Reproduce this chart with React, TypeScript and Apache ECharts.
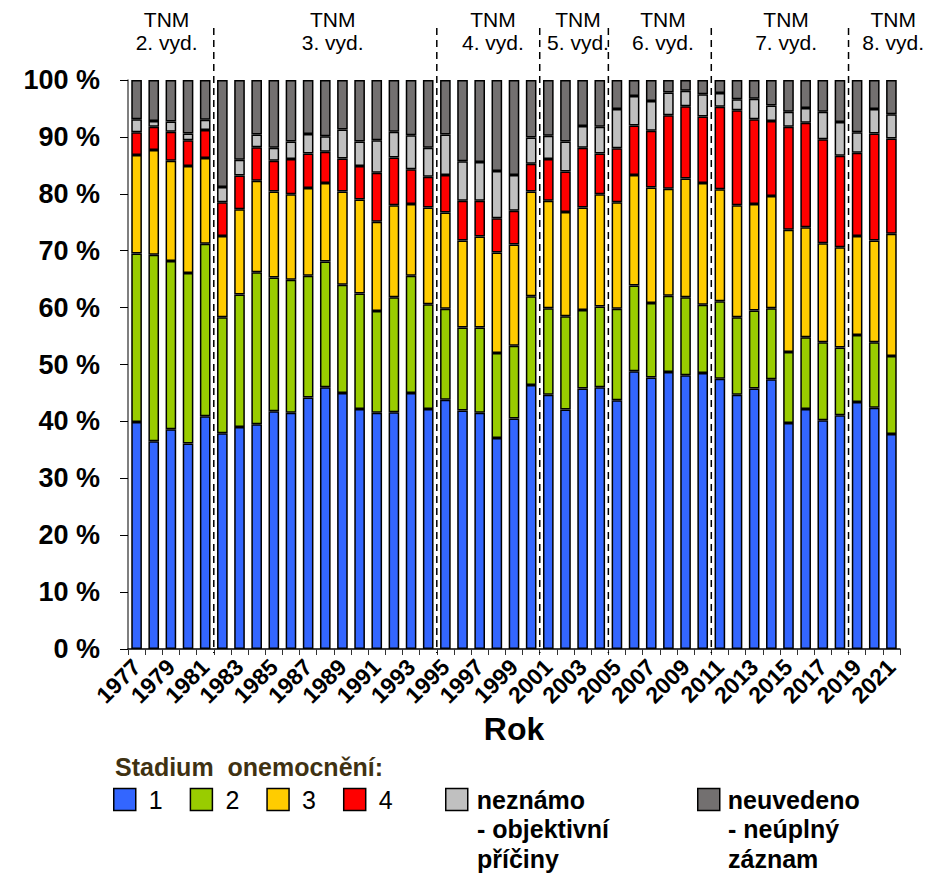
import React, { useEffect, useRef } from "react";
import * as echarts from "echarts";

const years = [
  "1977", "1978", "1979", "1980", "1981", "1982", "1983", "1984", "1985", "1986",
  "1987", "1988", "1989", "1990", "1991", "1992", "1993", "1994", "1995", "1996",
  "1997", "1998", "1999", "2000", "2001", "2002", "2003", "2004", "2005", "2006",
  "2007", "2008", "2009", "2010", "2011", "2012", "2013", "2014", "2015", "2016",
  "2017", "2018", "2019", "2020", "2021",
];

const stage1 = [
  39.9, 36.5, 38.6, 36.1, 40.9, 37.9, 39.0, 39.5, 41.8, 41.5,
  44.2, 46.0, 45.0, 42.2, 41.5, 41.6, 45.0, 42.2, 43.8, 41.9,
  41.5, 37.1, 40.5, 46.4, 44.7, 42.1, 45.8, 46.0, 43.7, 48.8,
  47.7, 48.7, 48.1, 48.5, 47.5, 44.7, 45.8, 47.4, 39.7, 42.2,
  40.2, 41.1, 43.4, 42.4, 37.8,
];
const stage2 = [
  29.6, 32.8, 29.6, 30.0, 30.3, 20.4, 23.3, 26.7, 23.5, 23.4,
  21.4, 22.1, 19.0, 20.3, 17.9, 20.2, 20.6, 18.4, 16.0, 14.6,
  15.0, 14.9, 12.8, 15.6, 15.2, 16.4, 13.8, 14.2, 16.1, 15.1,
  13.1, 13.4, 13.7, 12.0, 13.6, 13.6, 13.7, 12.5, 12.5, 12.6,
  13.7, 11.9, 11.8, 11.5, 13.7,
];
const stage3 = [
  17.3, 18.4, 17.6, 18.8, 15.1, 14.3, 15.0, 16.1, 15.1, 15.0,
  15.4, 13.8, 16.4, 16.5, 15.7, 16.2, 12.6, 17.0, 16.9, 15.3,
  16.0, 17.7, 17.8, 18.4, 18.9, 18.3, 18.0, 19.7, 18.7, 19.4,
  20.3, 18.8, 20.9, 21.4, 19.7, 19.7, 18.7, 19.7, 21.5, 19.3,
  17.4, 17.6, 17.4, 17.9, 21.5,
];
const stage4 = [
  4.0, 4.1, 5.1, 4.5, 4.9, 5.9, 5.9, 5.9, 5.4, 6.2,
  6.1, 5.5, 5.8, 5.9, 8.6, 8.4, 6.1, 5.4, 6.6, 7.0,
  6.3, 6.0, 5.9, 4.9, 7.3, 7.1, 10.5, 7.2, 9.5, 8.7,
  10.0, 12.9, 12.7, 11.7, 14.5, 16.7, 14.9, 13.2, 18.1, 18.4,
  18.3, 16.1, 14.6, 18.8, 16.7,
];
const unknownObjective = [
  2.3, 1.0, 1.8, 1.2, 1.8, 2.7, 2.8, 2.2, 2.3, 3.1,
  3.4, 2.7, 5.1, 4.3, 5.7, 4.5, 6.0, 5.1, 7.1, 6.9,
  6.8, 8.3, 6.3, 4.6, 4.1, 5.3, 3.8, 4.7, 6.9, 5.2,
  5.2, 4.0, 2.7, 3.9, 2.4, 1.9, 3.6, 2.7, 2.6, 2.6,
  4.8, 5.9, 3.6, 4.3, 4.3,
];
const notStated = [
  6.9, 7.2, 7.3, 9.4, 7.0, 18.8, 14.0, 9.6, 11.9, 10.8,
  9.5, 9.9, 8.7, 10.8, 10.6, 9.1, 9.7, 11.9, 9.6, 14.3,
  14.4, 16.0, 16.7, 10.1, 9.8, 10.8, 8.1, 8.2, 5.1, 2.8,
  3.7, 2.2, 1.9, 2.5, 2.3, 3.4, 3.3, 4.5, 5.6, 4.9,
  5.6, 7.4, 9.2, 5.1, 6.0,
];

const seriesNames = ["1", "2", "3", "4", "neznámo - objektivní příčiny", "neuvedeno - neúplný záznam"];
const seriesColors = ["#3366FF", "#99CC00", "#FFCC00", "#FF0000", "#C0C0C0", "#737070"];

const yTickValues = [0, 10, 20, 30, 40, 50, 60, 70, 80, 90, 100];

const editionStartYears = ["1977", "1982", "1995", "2001", "2005", "2011", "2019"];
const editionLabels = ["2. vyd.", "3. vyd.", "4. vyd.", "5. vyd.", "6. vyd.", "7. vyd.", "8. vyd."];
const editionLabelShift = [-0.25, 0.43, 0.27, 0.23, 0.18, 0.36, 1.1];

const FONT = "'Liberation Sans', Arial, Helvetica, sans-serif";

export default function App() {
  const ref = useRef<HTMLDivElement>(null);

  useEffect(() => {
    document.body.style.margin = "0";
    const chart = echarts.init(ref.current as HTMLDivElement, null, { renderer: "svg" });
    const allData = [stage1, stage2, stage3, stage4, unknownObjective, notStated];

    const legendCommon = {
      orient: "horizontal",
      icon: "rect",
      itemWidth: 22,
      itemHeight: 22,
      padding: 0,
      selectedMode: false,
      itemStyle: { borderColor: "#000", borderWidth: 1.5 },
    };

    chart.setOption({
      animation: false,
      textStyle: { fontFamily: FONT },
      grid: { left: 128, right: 43, top: 80, bottom: 224, containLabel: false, outerBoundsMode: "none" },
      legend: [
        {
          ...legendCommon,
          data: ["1", "2", "3", "4"],
          left: 113,
          top: 787,
          itemGap: 27,
          textStyle: { fontSize: 25, fontFamily: FONT, color: "#000", padding: [0, 0, 0, 8] },
        },
        {
          ...legendCommon,
          data: [seriesNames[4]],
          left: 445,
          top: 787,
          formatter: (n: string) => n.split(" - ")[0],
          textStyle: { fontSize: 25, fontWeight: "bold", fontFamily: FONT, color: "#000", padding: [0, 0, 0, 4] },
        },
        {
          ...legendCommon,
          data: [seriesNames[5]],
          left: 697,
          top: 787,
          formatter: (n: string) => n.split(" - ")[0],
          textStyle: { fontSize: 25, fontWeight: "bold", fontFamily: FONT, color: "#000", padding: [0, 0, 0, 3] },
        },
      ],
      xAxis: {
        type: "category",
        data: years,
        boundaryGap: true,
        name: "Rok",
        nameLocation: "middle",
        nameGap: 64,
        nameMoveOverlap: false,
        nameTextStyle: { fontSize: 32, fontWeight: "bold", color: "#000", fontFamily: FONT },
        axisLine: { lineStyle: { color: "#000", width: 1.5 } },
        axisTick: { show: true, interval: 0, length: 6, lineStyle: { color: "#333", width: 1 } },
        axisLabel: {
          interval: 1,
          rotate: 45,
          margin: 14,
          fontSize: 23,
          fontWeight: "bold",
          color: "#000",
          fontFamily: FONT,
        },
      },
      yAxis: {
        type: "value",
        min: yTickValues[0],
        max: yTickValues[yTickValues.length - 1],
        interval: yTickValues[1] - yTickValues[0],
        axisLine: { show: true, lineStyle: { color: "#555", width: 1.5 } },
        axisTick: { show: true, length: 8, lineStyle: { color: "#000", width: 1 } },
        splitLine: { show: false },
        axisLabel: {
          formatter: "{value} %",
          fontSize: 27,
          fontWeight: "bold",
          color: "#000",
          margin: 28,
          fontFamily: FONT,
        },
      },
      series: allData.map((d, i) => ({
        name: seriesNames[i],
        type: "bar",
        stack: "total",
        data: d,
        barWidth: "62%",
        itemStyle: { color: seriesColors[i], borderColor: "#000", borderWidth: 1.5 },
      })),
    });

    const px = (i: number) => chart.convertToPixel({ xAxisIndex: 0 }, i) as number;
    const step = px(1) - px(0);
    const edgeX = (u: number) => px(0) - step / 2 + u * step;
    const startIdx = editionStartYears.map((y) => years.indexOf(y));
    const endIdx = startIdx.map((s, k) => (k + 1 < startIdx.length ? startIdx[k + 1] : years.length));

    const graphics: any[] = [];
    startIdx.forEach((s, k) => {
      if (s > 0) {
        const x = edgeX(s);
        graphics.push({
          type: "line",
          shape: { x1: x, y1: 28, x2: x, y2: 653 },
          style: { stroke: "#000", lineWidth: 1.5, lineDash: [7, 5] },
          z: 100,
        });
      }
      const cx = edgeX((s + endIdx[k]) / 2 + editionLabelShift[k]);
      graphics.push({
        type: "text",
        x: cx,
        y: 8,
        style: {
          text: "TNM\n" + editionLabels[k],
          fontSize: 21,
          lineHeight: 23,
          fontFamily: FONT,
          fill: "#000",
          align: "center",
          verticalAlign: "top",
        },
      });
    });

    graphics.push({
      type: "text",
      x: 115,
      y: 767,
      style: {
        text: "Stadium  onemocnění:",
        fontSize: 25,
        fontWeight: "bold",
        fontFamily: FONT,
        fill: "#3f3212",
        align: "left",
        verticalAlign: "middle",
      },
    });
    graphics.push({
      type: "text",
      x: 477,
      y: 814,
      style: {
        text: "- objektivní\npříčiny",
        fontSize: 25,
        lineHeight: 30,
        fontWeight: "bold",
        fontFamily: FONT,
        fill: "#000",
        align: "left",
        verticalAlign: "top",
      },
    });
    graphics.push({
      type: "text",
      x: 728,
      y: 814,
      style: {
        text: "- neúplný\nzáznam",
        fontSize: 25,
        lineHeight: 30,
        fontWeight: "bold",
        fontFamily: FONT,
        fill: "#000",
        align: "left",
        verticalAlign: "top",
      },
    });

    chart.setOption({ graphic: graphics });

    return () => {
      chart.dispose();
    };
  }, []);

  return <div ref={ref} style={{ width: 943, height: 873 }} />;
}
